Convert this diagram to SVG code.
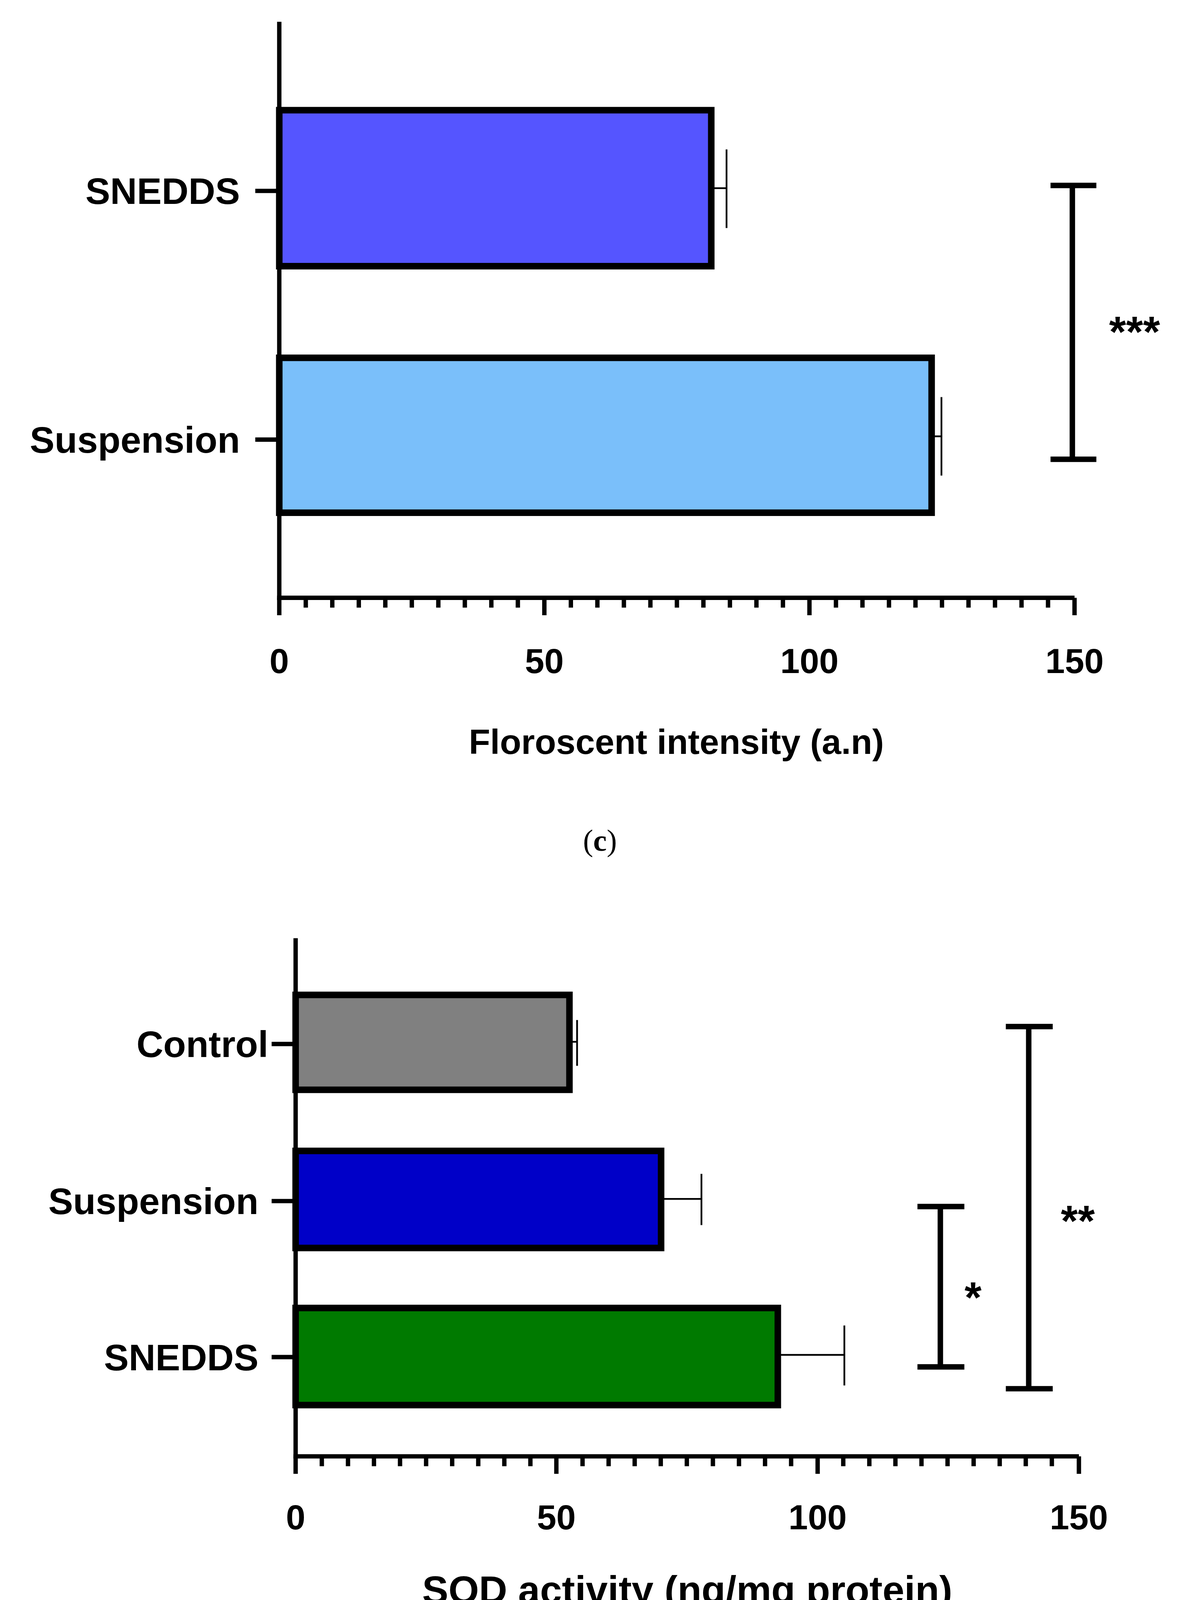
<svg xmlns="http://www.w3.org/2000/svg" width="3072" height="4380" viewBox="0 0 3072 4380">
<style>
.ax{stroke:#000;stroke-width:4;fill:none}
.bar{stroke:#000;stroke-width:6}
.err{stroke:#000;stroke-width:1.6;fill:none}
.sig{stroke:#000;stroke-width:5;fill:none}
.t{font-family:"Liberation Sans",Arial,sans-serif;font-weight:bold;fill:#000}
.cap{font-family:"Liberation Serif","Times New Roman",serif;font-size:28px;fill:#000}
</style>
<rect width="3072" height="4380" fill="#fff"/>
<g transform="scale(2.7927)">
<g id="chartC">
<line class="ax" x1="256" y1="20" x2="256" y2="550"/>
<line class="ax" x1="254" y1="548" x2="985" y2="548"/>
<path class="ax" stroke-width="2.5" d="M280.3 548v9M304.6 548v9M328.9 548v9M353.2 548v9M377.5 548v9M401.8 548v9M426.1 548v9M450.4 548v9M474.7 548v9M523.3 548v9M547.6 548v9M571.9 548v9M596.2 548v9M620.5 548v9M644.8 548v9M669.1 548v9M693.4 548v9M717.7 548v9M766.3 548v9M790.6 548v9M814.9 548v9M839.2 548v9M863.5 548v9M887.8 548v9M912.1 548v9M936.4 548v9M960.7 548v9"/>
<path class="ax" d="M256 548v16M499 548v16M742 548v16M985 548v16"/>
<line class="ax" x1="234" y1="175" x2="256" y2="175"/>
<line class="ax" x1="234" y1="403" x2="256" y2="403"/>
<g id="c_snedds"><rect class="bar" x="256" y="101" width="396" height="143" fill="#5555ff"/>
<path class="err" d="M652 172.5h14M666 137v72"/>
<text class="t" x="220" y="187" font-size="34" text-anchor="end">SNEDDS</text></g>
<g id="c_susp"><rect class="bar" x="256" y="328" width="598" height="142" fill="#7abffa"/>
<path class="err" d="M854 400h9M863 364v72"/>
<text class="t" x="220" y="415" font-size="34" text-anchor="end">Suspension</text></g>
<g id="c_sig"><path class="sig" d="M983 170v251M963 170h42M963 421h42"/>
<text class="t" x="1040" y="318" font-size="40" text-anchor="middle">***</text></g>
<g class="t" font-size="32" text-anchor="middle">
<text x="256" y="617">0</text><text x="499" y="617">50</text><text x="742" y="617">100</text><text x="985" y="617">150</text>
<text x="620" y="691" font-size="32">Floroscent intensity (a.n)</text></g>
<text class="cap" x="550" y="780" text-anchor="middle">(<tspan font-weight="bold">c</tspan>)</text>
</g>
<g id="chartD">
<line class="ax" x1="271" y1="860" x2="271" y2="1337"/>
<line class="ax" x1="269" y1="1335" x2="989" y2="1335"/>
<path class="ax" stroke-width="2.5" d="M295 1335v9M319 1335v9M342.8 1335v9M366.7 1335v9M390.6 1335v9M414.5 1335v9M438.4 1335v9M462.3 1335v9M486.2 1335v9M534 1335v9M557.9 1335v9M581.8 1335v9M605.7 1335v9M629.6 1335v9M653.5 1335v9M677.4 1335v9M701.3 1335v9M725.2 1335v9M773 1335v9M796.9 1335v9M820.8 1335v9M844.7 1335v9M868.6 1335v9M892.5 1335v9M916.4 1335v9M940.3 1335v9M964.2 1335v9"/>
<path class="ax" d="M271 1335v16M510 1335v16M749.5 1335v16M989 1335v16"/>
<line class="ax" x1="249" y1="957" x2="271" y2="957"/>
<line class="ax" x1="249" y1="1101" x2="271" y2="1101"/>
<line class="ax" x1="249" y1="1244" x2="271" y2="1244"/>
<g id="d_control"><rect class="bar" x="271" y="912" width="251" height="87" fill="#808080"/>
<path class="err" d="M522 955h7M529 935v42"/>
<text class="t" x="246" y="969" font-size="34" text-anchor="end">Control</text></g>
<g id="d_susp"><rect class="bar" x="271" y="1055" width="335" height="89" fill="#0000c8"/>
<path class="err" d="M606 1099h37M643 1076v47"/>
<text class="t" x="237" y="1113" font-size="34" text-anchor="end">Suspension</text></g>
<g id="d_snedds"><rect class="bar" x="271" y="1199" width="442" height="89" fill="#007a00"/>
<path class="err" d="M713 1242h61M774 1215v55"/>
<text class="t" x="237" y="1256" font-size="34" text-anchor="end">SNEDDS</text></g>
<g id="d_sig1"><path class="sig" d="M862 1106v147M841 1106h43M841 1253h43"/>
<text class="t" x="892" y="1203" font-size="40" text-anchor="middle">*</text></g>
<g id="d_sig2"><path class="sig" d="M943 941v332M922 941h43M922 1273h43"/>
<text class="t" x="988" y="1133" font-size="40" text-anchor="middle">**</text></g>
<g class="t" font-size="32" text-anchor="middle">
<text x="271" y="1402">0</text><text x="510" y="1402">50</text><text x="749.5" y="1402">100</text><text x="989" y="1402">150</text>
<text x="630" y="1470" font-size="36">SOD activity (ng/mg protein)</text></g>
<text class="cap" x="550" y="1550" text-anchor="middle">(<tspan font-weight="bold">d</tspan>)</text>
</g>
</g>
</svg>
